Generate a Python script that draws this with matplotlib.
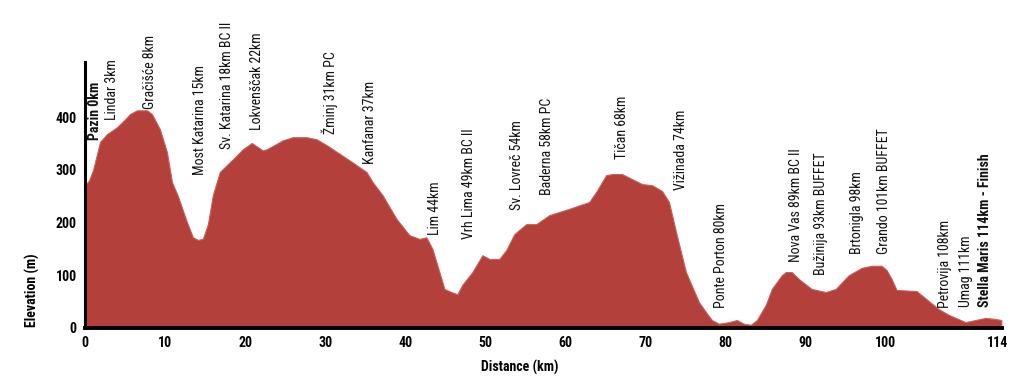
import matplotlib
matplotlib.use("Agg")
import matplotlib.pyplot as plt
from matplotlib import font_manager

# ---- data ----
dist_km = [0, 0.5, 1.0, 1.87, 2.74, 3.99, 5.0, 5.61, 6.48, 7.73, 8.35, 9.35, 10.22, 10.85, 11.6,
           12.72, 13.47, 14.1, 14.71, 15.34, 15.96, 16.83, 18.45, 19.7, 20.82, 22.19,
           22.69, 24.69, 25.94, 27.68, 28.93, 30.17, 33.04, 35.16, 35.91, 37.16, 38.9,
           40.52, 41.77, 42.64, 43.39, 44.26, 44.89, 45.76, 46.51, 47.13, 48.38, 49.63,
           50.5, 51.75, 52.62, 53.62, 55.11, 56.36, 57.98, 60.47, 62.97, 63.84, 65.09,
           65.84, 67.08, 69.58, 70.82, 72.07, 72.94, 73.82, 75.06, 76.68, 77.56, 78.3,
           79.18, 80.42, 81.42, 82.29, 83.17, 83.92, 85.04, 85.79, 87.03, 87.53, 88.28,
           89.15, 90.77, 92.52, 93.77, 95.39, 97.01, 98.25, 99.5, 100.12, 100.75, 101.37,
           103.87, 106.61, 107.86, 109.98, 111.22, 112.47, 113.72, 114.46]
elev_m = [271, 280, 300, 353, 368, 381, 396, 406, 413, 413, 406, 377, 334, 277, 250,
          201, 172, 167, 169, 197, 252, 296, 320, 339, 351, 337,
          339, 356, 362, 362, 358, 347, 318, 296, 277, 252, 207,
          176, 169, 172, 150, 106, 74, 68, 64, 82, 106, 138,
          131, 131, 148, 178, 197, 197, 214, 226, 239, 258, 290,
          292, 292, 273, 271, 260, 239, 182, 106, 49, 30, 15,
          8, 11, 15, 8, 6, 15, 44, 74, 100, 106, 106,
          93, 74, 68, 74, 100, 114, 118, 118, 110, 93, 72,
          70, 36, 25, 11, 15, 19, 17, 15]

place_names = ["Pazin 0km", "Lindar 3km", "Gračišće 8km", "Most Katarina 15km",
               "Sv. Katarina 18km BC II", "Lokvenščak 22km", "Žminj 31km PC",
               "Kanfanar 37km", "Lim 44km", "Vrh Lima 49km BC II", "Sv. Lovreč 54km",
               "Baderna 58km PC", "Tičan 68km", "Vižinada 74km", "Ponte Porton 80km",
               "Nova Vas 89km BC II", "Bužinija 93km BUFFET", "Brtonigla 98km",
               "Grando 101km BUFFET", "Petrovija 108km", "Umag 111km",
               "Stella Maris 114km - Finish"]
place_km = [1.25, 3.37, 8.1, 14.34, 17.7, 21.45, 30.55, 35.54, 43.77, 48.0, 54.0,
            57.73, 67.08, 74.44, 79.43, 88.78, 91.9, 96.38, 99.75, 107.48, 110.0, 112.47]
place_base_m = [356, 394, 415, 290, 339, 375, 368, 311, 176, 169, 224, 252, 320, 262,
                38, 125, 100, 140, 140, 38, 40, 40]
bold_places = ["Pazin 0km", "Stella Maris 114km - Finish"]

x_ticks = [0, 10, 20, 30, 40, 50, 60, 70, 80, 90, 100, 114]
y_ticks = [0, 100, 200, 300, 400]

# ---- font ----
names = {f.name for f in font_manager.fontManager.ttflist}
family = "DejaVu Sans"
for cand in ["Liberation Sans Narrow", "Roboto Condensed", "Open Sans Condensed", "Roboto"]:
    if cand in names:
        family = cand
        break
plt.rcParams["font.family"] = [family, "DejaVu Sans"]

fig = plt.figure(figsize=(10.25, 3.89), dpi=100)
ax = fig.add_axes([0.083, 0.157, 0.895, 0.684])

fill_color = "#b3403a"
ax.fill_between(dist_km, elev_m, 0, color=fill_color, linewidth=0.8, edgecolor="#c8605a")

ax.set_xlim(0, 114.6)
ax.set_ylim(0, 505)

for s in ["top", "right"]:
    ax.spines[s].set_visible(False)
ax.spines["left"].set_linewidth(2.2)
ax.spines["bottom"].set_linewidth(2.8)

ax.set_xticks(x_ticks)
ax.set_yticks(y_ticks)
ax.tick_params(length=0, labelsize=10, pad=6)
for lab in ax.get_xticklabels() + ax.get_yticklabels():
    lab.set_fontweight("bold")

ax.set_xlabel("Distance (km)", fontsize=10, fontweight="bold")
ax.set_ylabel("Elevation (m)", fontsize=10, fontweight="bold")
ax.xaxis.set_label_coords(0.474, -0.12)
ax.yaxis.set_label_coords(-0.049, 0.143)

for name, xk, yb in zip(place_names, place_km, place_base_m):
    ax.text(xk, yb, name, rotation=90, ha="center", va="bottom", fontsize=10,
            fontweight="bold" if name in bold_places else "normal", color="#111111",
            clip_on=False)

fig.savefig("out.png", dpi=100)
